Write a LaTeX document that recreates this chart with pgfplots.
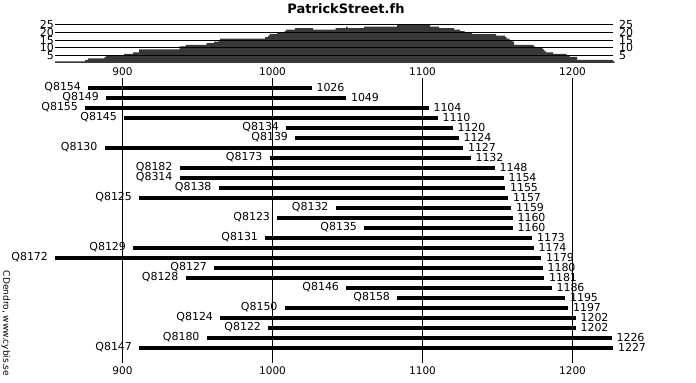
\documentclass[border=0pt]{standalone}
\usepackage{fontspec}
\setmainfont{DejaVu Sans}
\usepackage{pgfplots}
\pgfplotsset{compat=1.18}
\newcommand\fs{\fontsize{11bp}{13bp}\selectfont}
\newcommand\ft{\fontsize{10.5bp}{12bp}\selectfont}
\begin{document}
\begin{tikzpicture}[
  bar/.style={black, line width=4bp, line cap=butt, mark=none},
  sl/.style={anchor=base east, inner sep=0pt, xshift=-5bp, yshift=-2.6bp, font=\fs, text=black},
  el/.style={anchor=base west, inner sep=0pt, xshift=3bp, yshift=-3.2bp, font=\fs, text=black},
  ]
\begin{axis}[
  at={(0,0)}, anchor=south west,
  width=696bp, height=383bp, scale only axis,
  xmin=818.3333, xmax=1282.3333,
  ymin=0, ymax=383, y dir=reverse,
  hide axis, clip=false,
  ]
\coordinate (sw) at (rel axis cs:0,0);
\coordinate (ne) at (rel axis cs:1,1);
% vertical grid lines
\addplot[black, line width=1bp, mark=none] coordinates {(900,78) (900,363)};
\addplot[black, line width=1bp, mark=none] coordinates {(1000,78) (1000,363)};
\addplot[black, line width=1bp, mark=none] coordinates {(1100,78) (1100,363)};
\addplot[black, line width=1bp, mark=none] coordinates {(1200,78) (1200,363)};
\pgfplotsinvokeforeach{900,1000,1100,1200}{
  \node[font=\ft, inner sep=0pt] at (axis cs:#1,72) {#1};
  \node[font=\ft, inner sep=0pt] at (axis cs:#1,371) {#1};
}
% sample bars
\addplot[bar] coordinates {(877,88.3) (1026,88.3)} node[sl,pos=0]{Q8154} node[el,pos=1]{1026};
\addplot[bar] coordinates {(889,98.3) (1049,98.3)} node[sl,pos=0]{Q8149} node[el,pos=1]{1049};
\addplot[bar] coordinates {(875,108.3) (1104,108.3)} node[sl,pos=0]{Q8155} node[el,pos=1]{1104};
\addplot[bar] coordinates {(901,118.3) (1110,118.3)} node[sl,pos=0]{Q8145} node[el,pos=1]{1110};
\addplot[bar] coordinates {(1009,128.3) (1120,128.3)} node[sl,pos=0]{Q8134} node[el,pos=1]{1120};
\addplot[bar] coordinates {(1015,138.3) (1124,138.3)} node[sl,pos=0]{Q8139} node[el,pos=1]{1124};
\addplot[bar] coordinates {(888,148.3) (1127,148.3)} node[sl,pos=0]{Q8130} node[el,pos=1]{1127};
\addplot[bar] coordinates {(998,158.3) (1132,158.3)} node[sl,pos=0]{Q8173} node[el,pos=1]{1132};
\addplot[bar] coordinates {(938,168.3) (1148,168.3)} node[sl,pos=0]{Q8182} node[el,pos=1]{1148};
\addplot[bar] coordinates {(938,178.3) (1154,178.3)} node[sl,pos=0]{Q8314} node[el,pos=1]{1154};
\addplot[bar] coordinates {(964,188.3) (1155,188.3)} node[sl,pos=0]{Q8138} node[el,pos=1]{1155};
\addplot[bar] coordinates {(911,198.3) (1157,198.3)} node[sl,pos=0]{Q8125} node[el,pos=1]{1157};
\addplot[bar] coordinates {(1042,208.3) (1159,208.3)} node[sl,pos=0]{Q8132} node[el,pos=1]{1159};
\addplot[bar] coordinates {(1003,218.3) (1160,218.3)} node[sl,pos=0]{Q8123} node[el,pos=1]{1160};
\addplot[bar] coordinates {(1061,228.3) (1160,228.3)} node[sl,pos=0]{Q8135} node[el,pos=1]{1160};
\addplot[bar] coordinates {(995,238.3) (1173,238.3)} node[sl,pos=0]{Q8131} node[el,pos=1]{1173};
\addplot[bar] coordinates {(907,248.3) (1174,248.3)} node[sl,pos=0]{Q8129} node[el,pos=1]{1174};
\addplot[bar] coordinates {(855,258.3) (1179,258.3)} node[sl,pos=0]{Q8172} node[el,pos=1]{1179};
\addplot[bar] coordinates {(961,268.3) (1180,268.3)} node[sl,pos=0]{Q8127} node[el,pos=1]{1180};
\addplot[bar] coordinates {(942,278.3) (1181,278.3)} node[sl,pos=0]{Q8128} node[el,pos=1]{1181};
\addplot[bar] coordinates {(1049,288.3) (1186,288.3)} node[sl,pos=0]{Q8146} node[el,pos=1]{1186};
\addplot[bar] coordinates {(1083,298.3) (1195,298.3)} node[sl,pos=0]{Q8158} node[el,pos=1]{1195};
\addplot[bar] coordinates {(1008,308.3) (1197,308.3)} node[sl,pos=0]{Q8150} node[el,pos=1]{1197};
\addplot[bar] coordinates {(965,318.3) (1202,318.3)} node[sl,pos=0]{Q8124} node[el,pos=1]{1202};
\addplot[bar] coordinates {(997,328.3) (1202,328.3)} node[sl,pos=0]{Q8122} node[el,pos=1]{1202};
\addplot[bar] coordinates {(956,338.3) (1226,338.3)} node[sl,pos=0]{Q8180} node[el,pos=1]{1226};
\addplot[bar] coordinates {(911,348.3) (1227,348.3)} node[sl,pos=0]{Q8147} node[el,pos=1]{1227};
% title and credit
\node[font=\bfseries\fontsize{13bp}{15bp}\selectfont, inner sep=0pt] at (axis cs:1049,8.5) {PatrickStreet.fh};
\node[font=\fontsize{9bp}{11bp}\selectfont, inner sep=0pt, rotate=-90] at (axis cs:822.3,323.5) {CDendro, www.cybis.se};
\end{axis}

% sample depth histogram
\begin{axis}[
  at={(0,320bp)}, anchor=south west,
  width=696bp, height=38bp, scale only axis,
  xmin=818.3333, xmax=1282.3333,
  ymin=0, ymax=25,
  hide axis, clip=false,
  ]
\addplot[const plot, draw=none, mark=none, fill=black!78]
  coordinates {
  (855,0) (855,1) (875,2) (877,3) (888,4) (889,5) (901,6) (907,7) (911,9)
  (938,11) (942,12) (956,13) (961,14) (964,15) (965,16) (995,17) (997,18)
  (998,19) (1003,20) (1008,21) (1009,22) (1015,23) (1027,22) (1042,23)
  (1049,24) (1050,23) (1061,24) (1083,25) (1105,24) (1111,23) (1121,22)
  (1125,21) (1128,20) (1133,19) (1149,18) (1155,17) (1156,16) (1158,15)
  (1160,14) (1161,12) (1174,11) (1175,10) (1180,9) (1181,8) (1182,7)
  (1187,6) (1196,5) (1198,4) (1203,2) (1227,1) (1228,0)
  } \closedcycle;
\addplot[black, line width=1bp, mark=none] coordinates {(855,5) (1227,5)};
\addplot[black, line width=1bp, mark=none] coordinates {(855,10) (1227,10)};
\addplot[black, line width=1bp, mark=none] coordinates {(855,15) (1227,15)};
\addplot[black, line width=1bp, mark=none] coordinates {(855,20) (1227,20)};
\addplot[black, line width=1bp, mark=none] coordinates {(855,25) (1227,25)};
\pgfplotsinvokeforeach{5,10,15,20,25}{
  \node[font=\fs, anchor=east, inner sep=0pt, xshift=-1bp] at (axis cs:855,#1) {#1};
  \node[font=\fs, anchor=west, inner sep=0pt, xshift=6bp] at (axis cs:1227,#1) {#1};
}
\end{axis}
\pgfresetboundingbox
\path (sw) rectangle (ne);
\end{tikzpicture}
\end{document}
